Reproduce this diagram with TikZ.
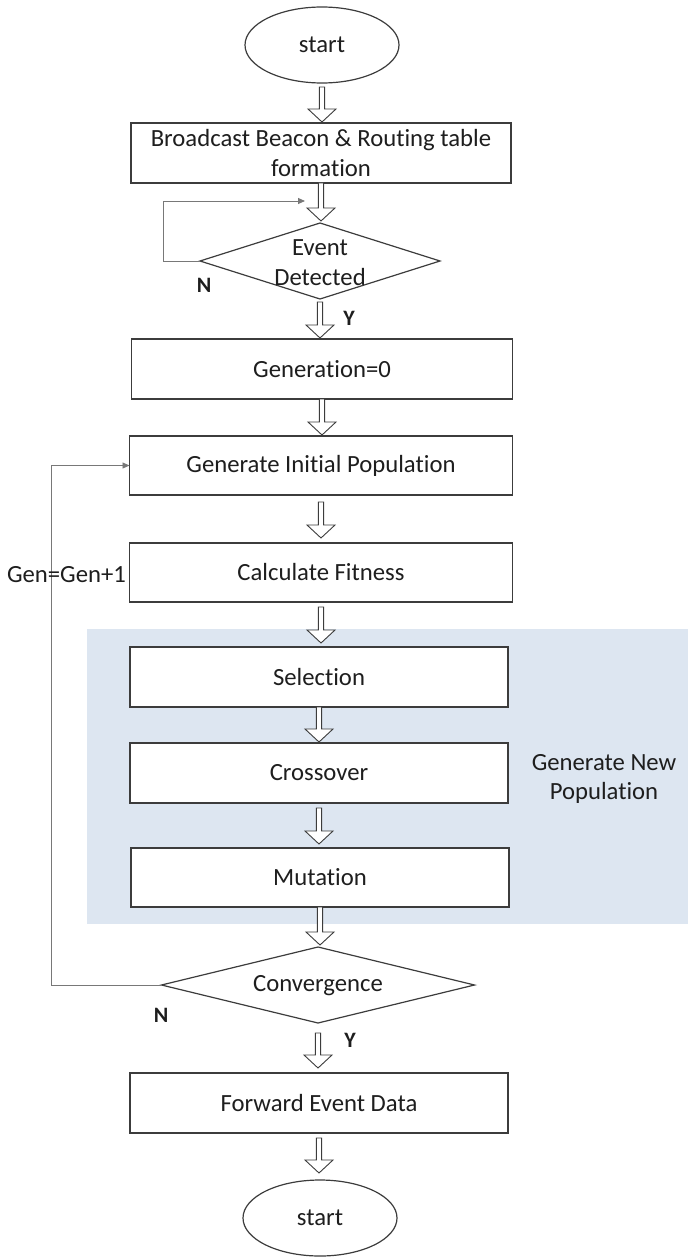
\documentclass[tikz,border=0pt]{standalone}
\usepackage{fontspec}
\setmainfont{Carlito}[Ligatures=NoCommon]
\usetikzlibrary{shapes.geometric,calc,arrows.meta}

\definecolor{panel}{RGB}{221,230,241}
\definecolor{ink}{RGB}{30,30,30}
\definecolor{edge}{RGB}{60,60,60}
\definecolor{loopgray}{RGB}{120,120,120}

\tikzset{
  every node/.style={text=ink, font=\fontsize{24.7}{30}\selectfont},
  procbox/.style={rectangle, draw=edge, line width=1.3pt, fill=white,
    inner sep=0pt, outer sep=0pt, minimum width=#1, minimum height=60pt, align=center},
  procbox/.default=380pt,
  terminal/.style={ellipse, draw=edge, line width=1.2pt, fill=white,
    inner sep=0pt, outer sep=0pt, minimum width=154pt, minimum height=76pt},
  decision/.style={diamond, draw=edge, line width=1.2pt, fill=white,
    inner sep=0pt, outer sep=0pt},
  plain/.style={inner sep=0pt, align=center},
  branchlabel/.style={inner sep=0pt, font=\fontsize{22}{26}\selectfont\bfseries},
  hollow/.style={draw=edge, fill=white, line width=0.9pt, line join=miter},
  loopline/.style={draw=loopgray, line width=0.9pt,
    -{Triangle[length=7pt,width=6pt]}},
}

% block arrow with open head, running straight down from #1 to #2
\newcommand\hollowarrow[2]{%
  \filldraw[hollow] let \p1=(#1), \p2=(#2) in
    (\x1-2.6pt,\y1) -- (\x1-2.6pt,\y2+13pt) -- (\x1-14pt,\y2+13pt)
    -- (\x1,\y2) -- (\x1+14pt,\y2+13pt) -- (\x1+2.6pt,\y2+13pt)
    -- (\x1+2.6pt,\y1) -- cycle;}

\begin{document}
\begin{tikzpicture}[x=1pt, y=-1pt]
  \useasboundingbox (0,0) rectangle (688,1257);

  % shaded panel behind the new-population steps
  \fill[panel] (87,629) rectangle (688,924);

  % nodes
  \node[terminal] (start) at (322,45) {start};
  \node[procbox=380pt] (bcast) at (321,153)
    {Broadcast Beacon \& Routing table\\formation};
  \node[decision, minimum width=240pt, minimum height=76pt] (ev) at (320,261) {};
  \node[plain] (evtext) at (320,262.5) {Event\\Detected};
  \node[procbox=381pt] (gen0) at (322,369) {Generation=0};
  \node[procbox=383pt, minimum height=59pt] (init) at (321,465.5) {Generate Initial Population};
  \node[procbox=383pt, minimum height=59pt] (fit) at (321,572.5) {Calculate Fitness};
  \node[procbox=378pt] (sel) at (319,677) {Selection};
  \node[procbox=378pt] (cross) at (319,773) {Crossover};
  \node[procbox=378pt, minimum height=59pt] (mut) at (320,877.5) {Mutation};
  \node[decision, minimum width=313pt, minimum height=76pt] (conv) at (318,985) {};
  \node[plain] (convtext) at (318,986) {Convergence};
  \node[procbox=378pt] (fwd) at (319,1103) {Forward Event Data};
  \node[terminal] (finish) at (320,1218) {start};

  \node[plain, font=\fontsize{24.7}{29}\selectfont] (newpop) at (604,779) {Generate New\\Population};

  % block arrows along the main flow
  \hollowarrow{$(start.south)+(0,4)$}{$(bcast.north)+(0,-1)$}
  \hollowarrow{bcast.south}{$(ev.north)+(0,-2)$}
  \hollowarrow{$(ev.south)+(0,3)$}{$(gen0.north)+(0,-1)$}
  \hollowarrow{gen0.south}{$(init.north)+(0,-1)$}
  \hollowarrow{$(init.south)+(0,7)$}{$(fit.north)+(0,-5)$}
  \hollowarrow{$(fit.south)+(0,5)$}{$(sel.north)+(0,-4)$}
  \hollowarrow{sel.south}{$(cross.north)+(0,-1)$}
  \hollowarrow{$(cross.south)+(0,5)$}{$(mut.north)+(0,-4)$}
  \hollowarrow{mut.south}{$(conv.north)+(0,-2)$}
  \hollowarrow{$(conv.south)+(0,10)$}{$(fwd.north)+(0,-5)$}
  \hollowarrow{$(fwd.south)+(0,5)$}{$(finish.north)+(0,-7)$}

  % loop back while no event is detected
  \coordinate (evin) at (305,201);
  \draw[loopline] (ev.west) -- ++(-37,0) |- (evin);
  \node[branchlabel] (evno) at (204,285) {N};
  \node[branchlabel] (evyes) at (349,318) {Y};

  % loop back to a new generation until convergence
  \draw[loopline] (conv.west) -- ++(-110,0) |- (init.west);
  \node[plain] (geninc) at (66.5,575) {Gen=Gen+1};
  \node[branchlabel] (convno) at (161,1015) {N};
  \node[branchlabel] (convyes) at (350,1040) {Y};
\end{tikzpicture}
\end{document}
